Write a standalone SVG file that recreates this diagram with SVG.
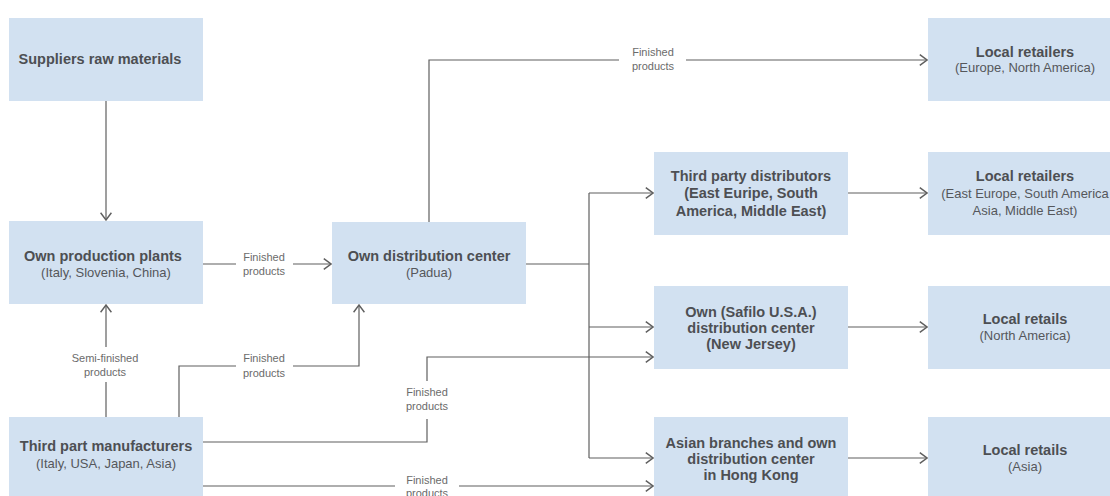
<svg xmlns="http://www.w3.org/2000/svg" width="1110" height="496" viewBox="0 0 1110 496">
<style>
.box{fill:#d2e1f1}
.t{font-family:"Liberation Sans",Arial,sans-serif;font-size:14.5px;font-weight:bold;fill:#4d4f53;text-anchor:middle}
.s{font-family:"Liberation Sans",Arial,sans-serif;font-size:13px;fill:#55575b;text-anchor:middle}
.lb{font-family:"Liberation Sans",Arial,sans-serif;font-size:11px;fill:#6b6b6b;text-anchor:middle}
.c{fill:none;stroke:#5f5f5f;stroke-width:1.2}
</style>
<defs>
<marker id="ah" markerUnits="userSpaceOnUse" markerWidth="10" markerHeight="12" viewBox="-7 -5 8 10" refX="0" refY="0" orient="auto">
<path d="M-6,-4.5 L0,0 L-6,4.5" fill="none" stroke="#5f5f5f" stroke-width="1.2"/>
</marker>
</defs>
<rect width="1110" height="496" fill="#ffffff"/>

<g id="suppliers"><rect class="box" x="9" y="18" width="194" height="83"/><text class="t" x="100" y="64">Suppliers raw materials</text></g>
<g id="own-production"><rect class="box" x="9" y="221" width="194" height="83"/><text class="t" x="103" y="261">Own production plants</text><text class="s" x="106" y="277">(Italy, Slovenia, China)</text></g>
<g id="third-part"><rect class="box" x="9" y="417" width="194" height="83"/><text class="t" x="106" y="451">Third part manufacturers</text><text class="s" x="106" y="468">(Italy, USA, Japan, Asia)</text></g>
<g id="own-distribution"><rect class="box" x="332" y="222" width="194" height="82"/><text class="t" x="429" y="261">Own distribution center</text><text class="s" x="429" y="277">(Padua)</text></g>
<g id="third-party-distributors"><rect class="box" x="654" y="152" width="194" height="83"/><text class="t" x="751" y="181">Third party distributors</text><text class="t" x="751" y="198">(East Euripe, South</text><text class="t" x="751" y="216">America, Middle East)</text></g>
<g id="safilo-usa"><rect class="box" x="654" y="286" width="194" height="83"/><text class="t" x="751" y="317">Own (Safilo U.S.A.)</text><text class="t" x="751" y="333">distribution center</text><text class="t" x="751" y="349">(New Jersey)</text></g>
<g id="asian-branches"><rect class="box" x="654" y="417" width="194" height="83"/><text class="t" x="751" y="448">Asian branches and own</text><text class="t" x="751" y="464">distribution center</text><text class="t" x="751" y="480">in Hong Kong</text></g>
<g id="retailers-europe"><rect class="box" x="928" y="18" width="194" height="83"/><text class="t" x="1025" y="57">Local retailers</text><text class="s" x="1025" y="72">(Europe, North America)</text></g>
<g id="retailers-east"><rect class="box" x="928" y="152" width="194" height="83"/><text class="t" x="1025" y="181">Local retailers</text><text class="s" x="1025" y="198">(East Europe, South America</text><text class="s" x="1025" y="215">Asia, Middle East)</text></g>
<g id="retails-na"><rect class="box" x="928" y="286" width="194" height="83"/><text class="t" x="1025" y="324">Local retails</text><text class="s" x="1025" y="340">(North America)</text></g>
<g id="retails-asia"><rect class="box" x="928" y="417" width="194" height="83"/><text class="t" x="1025" y="455">Local retails</text><text class="s" x="1025" y="471">(Asia)</text></g>

<g id="connectors">
<path class="c" d="M106,101 V220" marker-end="url(#ah)"/>
<path class="c" d="M203,264 H236"/>
<path class="c" d="M293,264 H331" marker-end="url(#ah)"/>
<path class="c" d="M106,417 V382"/>
<path class="c" d="M106,347 V305" marker-end="url(#ah)"/>
<path class="c" d="M179,417 V366 H236"/>
<path class="c" d="M293,366 H359 V305" marker-end="url(#ah)"/>
<path class="c" d="M429,222 V60 H619"/>
<path class="c" d="M686,60 H927" marker-end="url(#ah)"/>
<path class="c" d="M526,264 H589"/>
<path class="c" d="M589,193 V458"/>
<path class="c" d="M589,193 H653" marker-end="url(#ah)"/>
<path class="c" d="M589,327 H653" marker-end="url(#ah)"/>
<path class="c" d="M589,458 H653" marker-end="url(#ah)"/>
<path class="c" d="M848,193 H927" marker-end="url(#ah)"/>
<path class="c" d="M848,327 H927" marker-end="url(#ah)"/>
<path class="c" d="M848,458 H927" marker-end="url(#ah)"/>
<path class="c" d="M203,442 H427 V419"/>
<path class="c" d="M427,381 V357 H653" marker-end="url(#ah)"/>
<path class="c" d="M203,486 H395"/>
<path class="c" d="M459,486 H653" marker-end="url(#ah)"/>
<text class="lb" x="264" y="261">Finished</text><text class="lb" x="264" y="275">products</text>
<text class="lb" x="105" y="362">Semi-finished</text><text class="lb" x="105" y="376">products</text>
<text class="lb" x="264" y="362">Finished</text><text class="lb" x="264" y="377">products</text>
<text class="lb" x="653" y="56">Finished</text><text class="lb" x="653" y="70">products</text>
<text class="lb" x="427" y="396">Finished</text><text class="lb" x="427" y="410">products</text>
<text class="lb" x="427" y="484">Finished</text><text class="lb" x="427" y="497">products</text>
</g>
</svg>
